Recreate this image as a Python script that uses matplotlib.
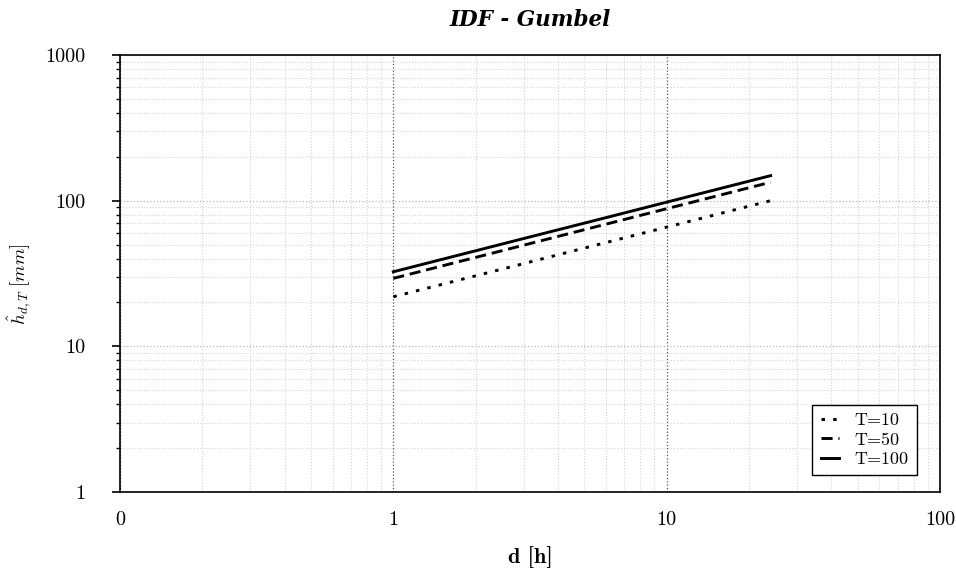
import numpy as np
import matplotlib
matplotlib.use("Agg")
import matplotlib.pyplot as plt
from matplotlib.ticker import FixedLocator, FixedFormatter, LogLocator, NullFormatter

plt.rcParams['font.family'] = 'cmr10'
plt.rcParams['mathtext.fontset'] = 'cm'
plt.rcParams['axes.unicode_minus'] = False

# durations [h] and depth-duration values [mm] per return period
durations = [1, 3, 6, 12, 24]
h_T10 = [21.9, 37.0, 51.6, 71.8, 100.0]
h_T50 = [29.3, 49.5, 69.0, 96.1, 133.8]
h_T100 = [32.5, 55.0, 76.5, 106.6, 148.5]

series = [("T=10", h_T10, (0, (1.2, 2.8))),
          ("T=50", h_T50, (0, (3.8, 2))),
          ("T=100", h_T100, '-')]

xticks = [0.1, 1, 10, 100]
xticklabels = ['0', '1', '10', '100']
yticks = [1, 10, 100, 1000]
yticklabels = ['1', '10', '100', '1000']

fig = plt.figure(figsize=(9.56, 5.70), dpi=100)
ax = fig.add_axes([0.1255, 0.1368, 0.8578, 0.7667])

for label, vals, ls in series:
    ax.plot(durations, vals, color='black', linestyle=ls, linewidth=2.1, label=label)

ax.set_xscale('log')
ax.set_yscale('log')
ax.set_xlim(0.1, 100)
ax.set_ylim(1, 1000)

ax.xaxis.set_major_locator(FixedLocator(xticks))
ax.xaxis.set_major_formatter(FixedFormatter(xticklabels))
ax.xaxis.set_minor_locator(LogLocator(base=10, subs=np.arange(2, 10)))
ax.xaxis.set_minor_formatter(NullFormatter())
ax.yaxis.set_major_locator(FixedLocator(yticks))
ax.yaxis.set_major_formatter(FixedFormatter(yticklabels))
ax.yaxis.set_minor_locator(LogLocator(base=10, subs=np.arange(2, 10)))
ax.yaxis.set_minor_formatter(NullFormatter())

ax.tick_params(axis='x', which='both', length=0, labelsize=14.5, pad=14)
ax.tick_params(axis='y', which='major', direction='out', length=6, width=1.2,
               labelsize=14.5, pad=19)
ax.tick_params(axis='y', which='minor', direction='out', length=3, width=1.0)

ax.grid(which='minor', color='#d4d4d4', linestyle=':', linewidth=0.8)
ax.grid(which='major', axis='y', color='#b8b8b8', linestyle=':', linewidth=0.9)
ax.grid(which='major', axis='x', color='#555555', linestyle=':', linewidth=0.9)
ax.set_axisbelow(True)

for sp in ax.spines.values():
    sp.set_linewidth(1.2)

ax.set_title('IDF - Gumbel', fontfamily='DejaVu Serif', fontweight='bold',
             fontstyle='italic', fontsize=15.5, pad=21)
ax.set_xlabel('d [h]', fontfamily='cmb10', fontsize=16, labelpad=12)
ax.set_ylabel(r'$\hat{h}_{d,T}\ [mm]$', fontsize=13.5)
ax.yaxis.set_label_coords(-0.105, 0.475)

leg = ax.legend(loc='lower right', bbox_to_anchor=(0.972, 0.039), borderaxespad=0,
                fontsize=13, frameon=True, fancybox=False, edgecolor='black',
                framealpha=1, handlelength=1.0, handletextpad=0.9,
                borderpad=0.45, labelspacing=0.2)
leg.get_frame().set_linewidth(1.0)

fig.savefig('out.png', dpi=100)
